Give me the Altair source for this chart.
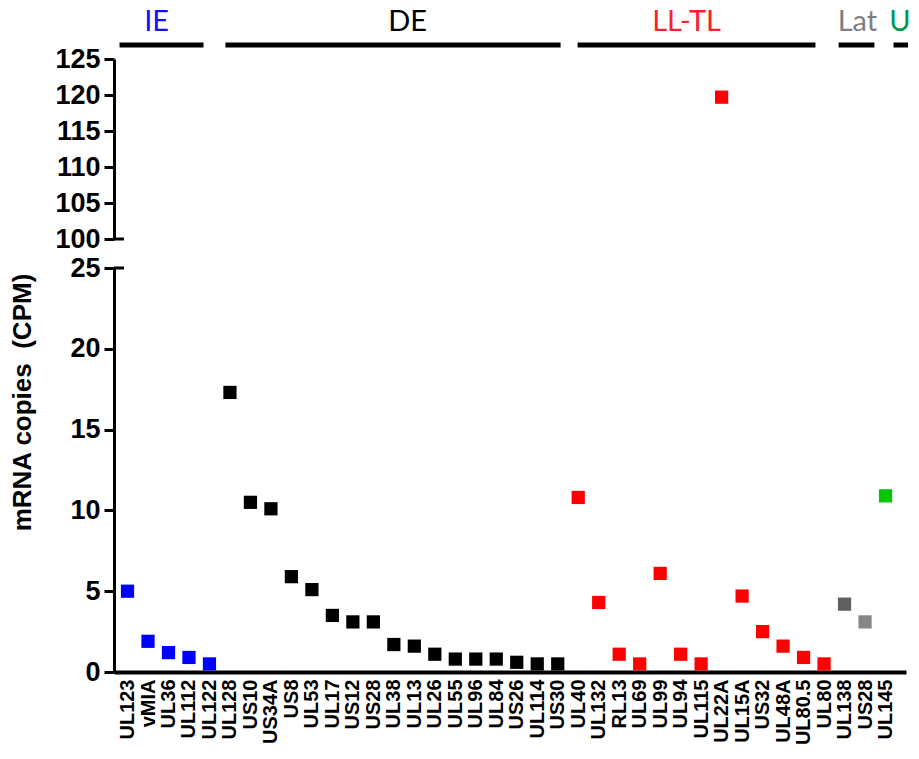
import altair as alt
import pandas as pd

# ---- data ----
genes = ["UL123", "vMIA", "UL36", "UL112", "UL122",
         "UL128", "US10", "US34A", "US8", "UL53", "UL17", "US12", "US28", "UL38", "UL13",
         "UL26", "UL55", "UL96", "UL84", "US26", "UL114", "US30",
         "UL40", "UL132", "RL13", "UL69", "UL99", "UL94", "UL115", "UL22A", "UL15A",
         "US32", "UL48A", "UL80.5", "UL80",
         "UL138", "US28",
         "UL145"]
values = [5.0, 1.9, 1.2, 0.9, 0.5,
          17.3, 10.5, 10.1, 5.9, 5.1, 3.5, 3.1, 3.1, 1.7, 1.6,
          1.1, 0.8, 0.8, 0.8, 0.6, 0.5, 0.5,
          10.8, 4.3, 1.1, 0.5, 6.1, 1.1, 0.5, 119.7, 4.7,
          2.5, 1.6, 0.9, 0.5,
          4.2, 3.1,
          10.9]
groups = (["IE"] * 5 + ["DE"] * 17 + ["LL-TL"] * 13 + ["Lat"] * 2 + ["U"])
shades = (["IE"] * 5 + ["DE"] * 17 + ["LL-TL"] * 13 + ["Lat", "Lat2"] + ["U"])

group_names = ["IE", "DE", "LL-TL", "Lat", "U"]
group_x0 = [-0.39, 4.78, 21.97, 34.71, 37.39]
group_x1 = [3.71, 21.14, 33.58, 36.46, 38.1]
group_label_x = [1.42, 13.67, 27.29, 35.63, 37.7]

y_top_ticks = [100, 105, 110, 115, 120, 125]
y_bottom_ticks = [0, 5, 10, 15, 20, 25]

point_domain = ["IE", "DE", "LL-TL", "Lat", "Lat2", "U"]
point_colors = ["#0000ff", "#000000", "#ff0000", "#606060", "#868686", "#00c800"]
text_colors = ["#1010ff", "#000000", "#f5222d", "#7f7f7f", "#00994c"]

# ---- tables ----
pts = pd.DataFrame({"idx": list(range(len(genes))), "gene": genes,
                    "value": values, "group": groups, "shade": shades})
grp = pd.DataFrame({"name": group_names, "x0": group_x0, "x1": group_x1,
                    "lx": group_label_x})

W = 792
label_expr = "[" + ",".join("'%s'" % g for g in genes) + "][datum.value]"
xscale = alt.Scale(domain=[-0.66, 38.0], nice=False, zero=False)
FONT = "Liberation Sans"

pcolor = alt.Color("shade:N", scale=alt.Scale(domain=point_domain, range=point_colors),
                   legend=None)


def yaxis(vals, **kw):
    return alt.Axis(values=vals, grid=False, labelOverlap=False, labelFontSize=27,
                    labelFont=FONT, labelFontWeight="bold", labelPadding=4,
                    tickSize=10, tickWidth=3, domainWidth=3, **kw)


top_axis = yaxis(y_top_ticks, title=None)
bot_axis = yaxis(y_bottom_ticks,
                 title="mRNA copies \u00a0(CPM)", titleFontSize=26,
                 titleFont=FONT, titleFontWeight="bold",
                 titleX=-84, titleY=134, titleBaseline="alphabetic",
                 titleAngle=270, titleAlign="center")

# ---- top panel ----
top_y = alt.Scale(domain=[100, 125], nice=False, zero=False)
top_pts = alt.Chart(pts).transform_filter("datum.value >= 100").mark_point(
    shape="square", filled=True, size=175, opacity=1
).encode(
    x=alt.X("idx:Q", scale=xscale, axis=None),
    y=alt.Y("value:Q", scale=top_y, axis=top_axis),
    color=pcolor,
)
top_break = alt.Chart(pd.DataFrame({"value": [100]})).mark_rule(
    strokeWidth=3, color="black"
).encode(y=alt.Y("value:Q", scale=top_y, axis=top_axis), x=alt.value(0), x2=alt.value(10))

grp_lines = alt.Chart(grp).mark_rule(strokeWidth=5, color="black").encode(
    x=alt.X("x0:Q", scale=xscale, axis=None), x2="x1:Q", y=alt.value(-14)
)
grp_text = alt.Chart(grp).mark_text(
    font="Lato, sans-serif", fontSize=29, baseline="alphabetic",
    align="center"
).encode(
    x=alt.X("lx:Q", scale=xscale, axis=None),
    y=alt.value(-28),
    text="name:N",
    color=alt.Color("name:N", scale=alt.Scale(domain=group_names, range=text_colors),
                    legend=None),
)
top = alt.layer(top_pts, top_break, grp_lines, grp_text).resolve_scale(
    color="independent").properties(width=W, height=180)

# ---- bottom panel ----
bot_y = alt.Scale(domain=[0, 25], nice=False, zero=True)
bot_pts = alt.Chart(pts).transform_filter("datum.value < 100").mark_point(
    shape="square", filled=True, size=175, opacity=1
).encode(
    x=alt.X("idx:Q", scale=xscale,
            axis=alt.Axis(values=list(range(len(genes))), labelExpr=label_expr,
                          labelAngle=270, labelFontSize=20, labelPadding=7,
                          ticks=False, grid=False, title=None, domainWidth=4,
                          labelOverlap=False, labelFlush=False,
                          labelFont=FONT, labelFontWeight="bold")),
    y=alt.Y("value:Q", scale=bot_y, axis=bot_axis),
    color=pcolor,
)
bot_break = alt.Chart(pd.DataFrame({"value": [25]})).mark_rule(
    strokeWidth=3, color="black"
).encode(y=alt.Y("value:Q", scale=bot_y, axis=bot_axis), x=alt.value(0), x2=alt.value(10))

bottom = alt.layer(bot_pts, bot_break).properties(width=W, height=404)

chart = alt.vconcat(top, bottom, spacing=2).resolve_scale(
    y="independent", color="independent"
).properties(
    padding={"left": 0, "top": 0, "right": 0, "bottom": 0}
).configure_view(stroke=None).configure_axis(
    domainColor="black", tickColor="black", labelColor="black",
)

chart.save("out.html", embed_options={"renderer": "svg", "actions": False})
